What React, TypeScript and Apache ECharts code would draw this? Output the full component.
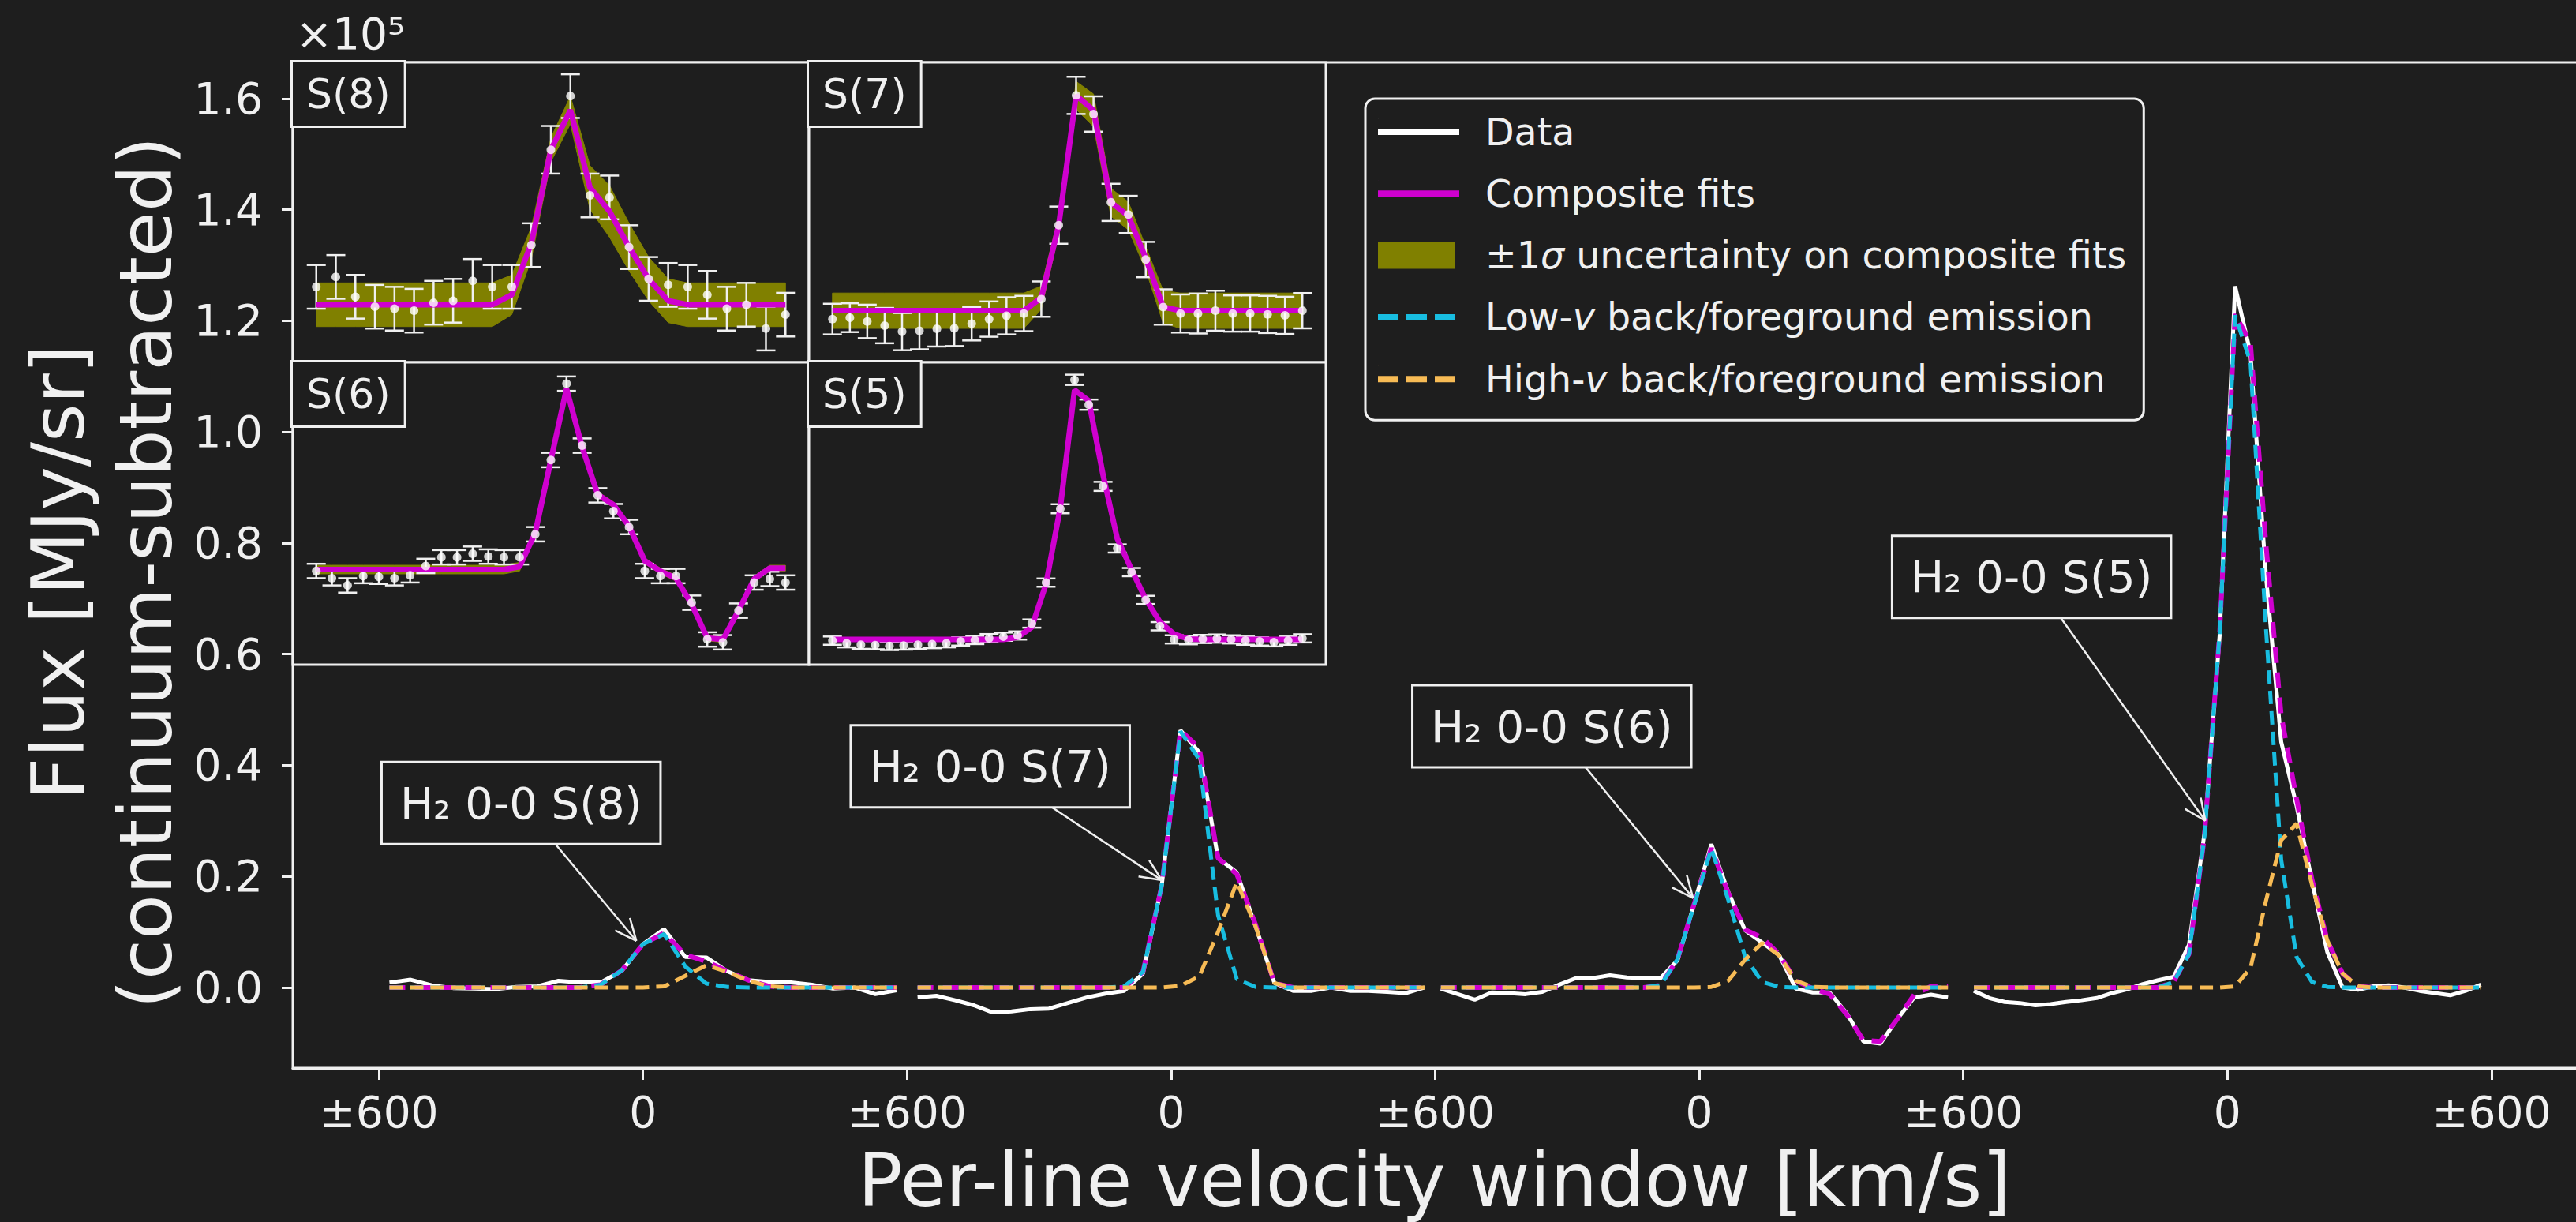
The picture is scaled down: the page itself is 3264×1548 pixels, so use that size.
import React, { useEffect, useRef } from 'react';
import * as echarts from 'echarts';

// ---------------- canvas / style constants ----------------
const W = 3264;
const H = 1548;
const FONT = 'DejaVu Sans';
const BG = '#1e1e1e';
const FG = '#f0f0f0';
const C_DATA = '#ffffff';
const C_FIT = '#cf00cf';
const C_LOW = '#18bde0';
const C_HIGH = '#f7bb55';
const C_BAND = '#808000';

// ---------------- axes ----------------
const X_MIN = -795.6;
const X_MAX = 4395.6;
const Y_MIN = -0.145;
const Y_MAX = 1.665;
const X_TICKS = [-600, 0, 600, 1200, 1800, 2400, 3000, 3600, 4200];
const Y_TICKS = [0, 0.2, 0.4, 0.6, 0.8, 1.0, 1.2, 1.4, 1.6];

// ---------------- lines ----------------
const LINE_NAMES = ['S(8)', 'S(7)', 'S(6)', 'S(5)'];
const WINDOW_CENTERS = [0, 1200, 2400, 3600];

// H2 0-0 S(8)  (flux in 1e5 MJy/sr)
const V8 = [-576, -528, -480, -432, -384, -336, -288, -240, -192, -144, -96, -48, 0, 48, 96, 144, 192, 240, 288, 336, 384, 432, 480, 528, 576];
const DATA8 = [0.009, 0.014, 0.004, -0.001, -0.002, -0.003, 0.001, 0.002, 0.012, 0.009, 0.009, 0.030, 0.078, 0.105, 0.055, 0.054, 0.029, 0.013, 0.010, 0.009, 0.005, -0.002, 0.000, -0.012, -0.005];
const ERR8 = [0.011, 0.011, 0.011, 0.011, 0.011, 0.011, 0.011, 0.011, 0.011, 0.011, 0.011, 0.011, 0.012, 0.011, 0.011, 0.011, 0.011, 0.011, 0.011, 0.011, 0.012, 0.011, 0.011, 0.011, 0.011];
const FIT8 = [0, 0, 0, 0, 0, 0, 0, 0, 0, 0, 0.005, 0.031, 0.078, 0.098, 0.059, 0.047, 0.029, 0.013, 0.002, 0, 0, 0, 0, 0, 0];
const SIG8 = [0.011, 0.011, 0.011, 0.011, 0.011, 0.011, 0.011, 0.011, 0.011, 0.011, 0.010, 0.008, 0.006, 0.007, 0.011, 0.013, 0.012, 0.011, 0.011, 0.011, 0.011, 0.011, 0.011, 0.011, 0.011];
const LOW8 = [0, 0, 0, 0, 0, 0, 0, 0, 0, 0, 0.005, 0.031, 0.078, 0.096, 0.038, 0.007, 0.001, 0, 0, 0, 0, 0, 0, 0, 0];
const HIGH8 = [0, 0, 0, 0, 0, 0, 0, 0, 0, 0, 0, 0, 0, 0.002, 0.021, 0.040, 0.028, 0.012, 0.002, 0, 0, 0, 0, 0, 0];

// H2 0-0 S(7)
const V7 = [-576, -533.3, -490.7, -448, -405.3, -362.7, -320, -277.3, -234.7, -192, -149.3, -106.7, -64, -21.3, 21.3, 64, 106.7, 149.3, 192, 234.7, 277.3, 320, 362.7, 405.3, 448, 490.7, 533.3, 576];
const DATA7 = [-0.018, -0.015, -0.023, -0.032, -0.045, -0.043, -0.039, -0.038, -0.028, -0.018, -0.011, -0.006, 0.025, 0.184, 0.463, 0.423, 0.233, 0.207, 0.110, 0.008, -0.006, -0.006, 0.000, -0.006, -0.006, -0.008, -0.010, 0.000];
const ERR7 = [0.033, 0.031, 0.036, 0.038, 0.040, 0.040, 0.038, 0.038, 0.036, 0.038, 0.040, 0.038, 0.038, 0.040, 0.040, 0.038, 0.040, 0.040, 0.038, 0.038, 0.041, 0.043, 0.043, 0.039, 0.039, 0.040, 0.040, 0.038];
const FIT7 = [0, 0, 0, 0, 0, 0, 0, 0, 0, 0, 0, 0, 0.028, 0.184, 0.463, 0.431, 0.233, 0.204, 0.113, 0.008, 0, 0, 0, 0, 0, 0, 0, 0];
const SIG7 = [0.038, 0.038, 0.038, 0.038, 0.038, 0.038, 0.038, 0.038, 0.038, 0.038, 0.038, 0.038, 0.025, 0.020, 0.030, 0.035, 0.030, 0.030, 0.025, 0.035, 0.038, 0.038, 0.038, 0.038, 0.038, 0.038, 0.038, 0.038];
const LOW7 = [0, 0, 0, 0, 0, 0, 0, 0, 0, 0, 0, 0.002, 0.028, 0.184, 0.461, 0.410, 0.130, 0.015, 0.001, 0, 0, 0, 0, 0, 0, 0, 0, 0];
const HIGH7 = [0, 0, 0, 0, 0, 0, 0, 0, 0, 0, 0, 0, 0, 0, 0.003, 0.020, 0.100, 0.190, 0.110, 0.008, 0, 0, 0, 0, 0, 0, 0, 0];

// H2 0-0 S(6)
const V6 = [-587, -548.6, -510.2, -471.8, -433.4, -395, -356.6, -318.2, -279.8, -241.4, -203, -164.6, -126.2, -87.8, -49.4, -11, 27.4, 65.8, 104.2, 142.6, 181, 219.4, 257.8, 296.2, 334.6, 373, 411.4, 449.8, 488.2, 526.6, 565];
const DATA6 = [-0.002, -0.012, -0.022, -0.009, -0.010, -0.012, -0.008, 0.005, 0.017, 0.017, 0.022, 0.018, 0.017, 0.017, 0.049, 0.152, 0.258, 0.172, 0.103, 0.081, 0.059, -0.002, -0.009, -0.009, -0.046, -0.097, -0.101, -0.057, -0.018, -0.013, -0.018];
const ERR6 = [0.010, 0.010, 0.010, 0.010, 0.010, 0.010, 0.010, 0.010, 0.010, 0.010, 0.010, 0.010, 0.010, 0.010, 0.010, 0.010, 0.010, 0.010, 0.010, 0.010, 0.010, 0.010, 0.010, 0.010, 0.010, 0.010, 0.010, 0.010, 0.010, 0.010, 0.010];
const FIT6 = [0, 0, 0, 0, 0, 0, 0, 0, 0, 0, 0, 0, 0, 0.004, 0.051, 0.152, 0.251, 0.170, 0.104, 0.090, 0.060, 0.012, -0.002, -0.012, -0.048, -0.095, -0.097, -0.057, -0.013, 0.002, 0.002];
const SIG6 = [0.006, 0.006, 0.006, 0.006, 0.006, 0.006, 0.006, 0.006, 0.006, 0.006, 0.006, 0.006, 0.006, 0.006, 0.004, 0.004, 0.004, 0.004, 0.004, 0.004, 0.004, 0.004, 0.004, 0.004, 0.004, 0.004, 0.004, 0.004, 0.004, 0.004, 0.004];
const LOW6 = [0, 0, 0, 0, 0, 0, 0, 0, 0, 0, 0, 0, 0, 0.004, 0.051, 0.150, 0.250, 0.158, 0.055, 0.010, 0.001, 0, 0, 0, 0, 0, 0, 0, 0, 0, 0];
const HIGH6 = [0, 0, 0, 0, 0, 0, 0, 0, 0, 0, 0, 0, 0, 0, 0, 0, 0.001, 0.012, 0.050, 0.080, 0.058, 0.012, 0.001, 0, 0, 0, 0, 0, 0, 0, 0];

// H2 0-0 S(5)
const V5 = [-576, -541.1, -506.2, -471.3, -436.4, -401.5, -366.5, -331.6, -296.7, -261.8, -226.9, -192, -157.1, -122.2, -87.3, -52.4, -17.5, 17.5, 52.4, 87.3, 122.2, 157.1, 192, 226.9, 261.8, 296.7, 331.6, 366.5, 401.5, 436.4, 471.3, 506.2, 541.1, 576];
const DATA5 = [-0.006, -0.019, -0.026, -0.028, -0.032, -0.030, -0.026, -0.023, -0.019, -0.010, -0.003, 0.006, 0.013, 0.019, 0.077, 0.276, 0.635, 1.262, 1.141, 0.744, 0.442, 0.327, 0.192, 0.064, 0.000, -0.004, 0.002, 0.004, 0.000, -0.006, -0.010, -0.014, -0.006, 0.005];
const ERR5 = [0.020, 0.020, 0.020, 0.020, 0.020, 0.020, 0.020, 0.020, 0.020, 0.020, 0.020, 0.020, 0.020, 0.020, 0.020, 0.020, 0.022, 0.025, 0.025, 0.022, 0.020, 0.020, 0.020, 0.020, 0.020, 0.020, 0.020, 0.020, 0.020, 0.020, 0.020, 0.020, 0.020, 0.020];
const FIT5 = [0, 0, 0, 0, 0, 0, 0, 0, 0, 0, 0, 0, 0, 0.010, 0.060, 0.270, 0.640, 1.212, 1.160, 0.800, 0.490, 0.340, 0.195, 0.085, 0.025, 0.002, 0, 0, 0, 0, 0, 0, 0, 0];
const SIG5 = [0.004, 0.004, 0.004, 0.004, 0.004, 0.004, 0.004, 0.004, 0.004, 0.004, 0.004, 0.004, 0.004, 0.004, 0.004, 0.004, 0.004, 0.004, 0.004, 0.004, 0.004, 0.004, 0.004, 0.004, 0.004, 0.004, 0.004, 0.004, 0.004, 0.004, 0.004, 0.004, 0.004, 0.004];
const LOW5 = [0, 0, 0, 0, 0, 0, 0, 0, 0, 0, 0, 0, 0, 0.010, 0.060, 0.270, 0.640, 1.210, 1.125, 0.650, 0.230, 0.055, 0.010, 0.001, 0, 0, 0, 0, 0, 0, 0, 0, 0, 0];
const HIGH5 = [0, 0, 0, 0, 0, 0, 0, 0, 0, 0, 0, 0, 0, 0, 0, 0, 0, 0.002, 0.035, 0.155, 0.265, 0.295, 0.185, 0.085, 0.025, 0.002, 0, 0, 0, 0, 0, 0, 0, 0];

// inset vertical ranges (same flux units)
const INSET_YMIN = [-0.029, -0.111, -0.132, -0.123];
const INSET_YMAX = [0.122, 0.534, 0.2876, 1.347];

// annotations (data coordinates of main axes)
const ANN_LABELS = ['H\u2082 0-0 S(8)', 'H\u2082 0-0 S(7)', 'H\u2082 0-0 S(6)', 'H\u2082 0-0 S(5)'];
const ANN_TEXT_X = [-277, 789, 2065, 3155];
const ANN_TEXT_Y = [0.332, 0.398, 0.470, 0.739];
const ANN_TIP_X = [-15, 1179, 2386, 3550];
const ANN_TIP_Y = [0.084, 0.193, 0.161, 0.300];

// legend names
const NAME_DATA = 'Data';
const NAME_FIT = 'Composite fits';
const NAME_BAND = '\u00b11\u03c3 uncertainty on composite fits';
const NAME_LOW = 'Low-v back/foreground emission';
const NAME_HIGH = 'High-v back/foreground emission';

// ---------------- layout ----------------
const MAIN_GRID = { left: 371, top: 79, width: 2895, height: 1274 };
const INSET_GRIDS = [
  { left: 371, top: 79, width: 654, height: 380 },
  { left: 1025, top: 79, width: 655, height: 380 },
  { left: 371, top: 459, width: 654, height: 383 },
  { left: 1025, top: 459, width: 655, height: 383 },
];
const ANN_HW = 175;
const ANN_HH = 51;

const ICON_SOLID = 'path://M0,0h0.2v0.2h-0.2z M0,13h103v8h-103z M130.8,33.8h0.2v0.2h-0.2z';
const ICON_DASH = 'path://M0,0h0.2v0.2h-0.2z M0,13h26v8h-26z M36,13h26v8h-26z M72,13h26v8h-26z M130.8,33.8h0.2v0.2h-0.2z';
const ICON_RECT = 'path://M0,0h98v34h-98z M130.8,33.8h0.2v0.2h-0.2z';

const LINESETS = [
  { v: V8, data: DATA8, err: ERR8, fit: FIT8, sig: SIG8, low: LOW8, high: HIGH8 },
  { v: V7, data: DATA7, err: ERR7, fit: FIT7, sig: SIG7, low: LOW7, high: HIGH7 },
  { v: V6, data: DATA6, err: ERR6, fit: FIT6, sig: SIG6, low: LOW6, high: HIGH6 },
  { v: V5, data: DATA5, err: ERR5, fit: FIT5, sig: SIG5, low: LOW5, high: HIGH5 },
];

const LEGEND_RICH: Record<string, string> = {
  [NAME_DATA]: '{t|Data}',
  [NAME_FIT]: '{t|Composite fits}',
  [NAME_BAND]: '{t|\u00b11}{i|\u03c3 }{t|uncertainty on composite fits}',
  [NAME_LOW]: '{t|Low-}{i|v }{t|back/foreground emission}',
  [NAME_HIGH]: '{t|High-}{i|v }{t|back/foreground emission}',
};

function buildOption(): any {
  const series: any[] = [];

  // main panel
  LINESETS.forEach((L, k) => {
    const c = WINDOW_CENTERS[k];
    const pts = (arr: number[]) => L.v.map((v, i) => [c + v, arr[i]]);
    series.push({
      type: 'line', name: NAME_DATA, xAxisIndex: 0, yAxisIndex: 0, data: pts(L.data),
      symbol: 'none', lineStyle: { color: C_DATA, width: 5 }, itemStyle: { color: C_DATA }, z: 2,
    });
    series.push({
      type: 'line', name: NAME_FIT, xAxisIndex: 0, yAxisIndex: 0, data: pts(L.fit),
      symbol: 'none', lineStyle: { color: C_FIT, width: 6, type: [20, 12] }, itemStyle: { color: C_FIT }, z: 3,
    });
    series.push({
      type: 'line', name: NAME_LOW, xAxisIndex: 0, yAxisIndex: 0, data: pts(L.low),
      symbol: 'none', lineStyle: { color: C_LOW, width: 5, type: [17, 9] }, itemStyle: { color: C_LOW }, z: 4,
    });
    series.push({
      type: 'line', name: NAME_HIGH, xAxisIndex: 0, yAxisIndex: 0, data: pts(L.high),
      symbol: 'none', lineStyle: { color: C_HIGH, width: 5, type: [17, 9] }, itemStyle: { color: C_HIGH }, z: 5,
    });
  });

  // insets
  LINESETS.forEach((L, k) => {
    const ax = k + 1;
    // ±1σ band as one polygon drawn through the inset axes
    series.push({
      type: 'custom', name: NAME_BAND, xAxisIndex: ax, yAxisIndex: ax,
      dimensions: ['v', 'lower', 'upper'], encode: { x: 0, y: [1, 2] },
      data: L.v.map((v, i) => [v, L.fit[i] - L.sig[i], L.fit[i] + L.sig[i]]),
      itemStyle: { color: C_BAND },
      renderItem: (params: any, api: any) => {
        if (params.dataIndex !== 0) return null;
        const upper = L.v.map((v, i) => api.coord([v, L.fit[i] + L.sig[i]]));
        const lower = L.v.map((v, i) => api.coord([v, L.fit[i] - L.sig[i]])).reverse();
        return {
          type: 'polygon',
          shape: { points: upper.concat(lower) },
          style: { fill: C_BAND, stroke: C_BAND, lineWidth: 1 },
        };
      },
      silent: true, z: 6,
    });
    series.push({
      type: 'custom', name: 'errbar-' + k, xAxisIndex: ax, yAxisIndex: ax,
      dimensions: ['v', 'flux', 'err'], encode: { x: 0, y: 1 },
      data: L.v.map((v, i) => [v, L.data[i], L.err[i]]),
      renderItem: (params: any, api: any) => {
        const x = api.value(0);
        const y = api.value(1);
        const e = api.value(2);
        const lo = api.coord([x, y - e]);
        const hi = api.coord([x, y + e]);
        const cw = 12;
        const st = { stroke: FG, lineWidth: 2.5 };
        return {
          type: 'group',
          children: [
            { type: 'line', shape: { x1: lo[0], y1: lo[1], x2: hi[0], y2: hi[1] }, style: st },
            { type: 'line', shape: { x1: lo[0] - cw, y1: lo[1], x2: lo[0] + cw, y2: lo[1] }, style: st },
            { type: 'line', shape: { x1: hi[0] - cw, y1: hi[1], x2: hi[0] + cw, y2: hi[1] }, style: st },
          ],
        };
      },
      silent: true, z: 7,
    });
    series.push({
      type: 'line', name: NAME_FIT, xAxisIndex: ax, yAxisIndex: ax,
      data: L.v.map((v, i) => [v, L.fit[i]]),
      symbol: 'none', lineStyle: { color: C_FIT, width: 7 }, itemStyle: { color: C_FIT }, z: 8,
    });
    series.push({
      type: 'scatter', name: 'points-' + k, xAxisIndex: ax, yAxisIndex: ax,
      data: L.v.map((v, i) => [v, L.data[i]]),
      symbol: 'circle', symbolSize: 11, itemStyle: { color: '#ffffff' }, silent: true, z: 9,
    });
  });

  const insetX = LINESETS.map((L) => {
    const lo = Math.min(...L.v);
    const hi = Math.max(...L.v);
    const m = 0.05 * (hi - lo);
    return [lo - m, hi + m];
  });

  const textBase = { color: FG, fontFamily: FONT, fontSize: 47.5, lineHeight: 56 };

  return {
    animation: false,
    backgroundColor: BG,
    grid: [
      { ...MAIN_GRID, show: true, borderColor: FG, borderWidth: 3, backgroundColor: 'transparent', containLabel: false, outerBoundsMode: 'none' },
      ...INSET_GRIDS.map((g) => ({ ...g, show: true, borderColor: FG, borderWidth: 3, backgroundColor: BG, containLabel: false, outerBoundsMode: 'none' })),
    ],
    xAxis: [
      {
        type: 'value', gridIndex: 0, min: X_MIN, max: X_MAX,
        axisLine: { show: true, onZero: false, lineStyle: { color: FG, width: 3 } },
        axisTick: { show: true, customValues: X_TICKS, length: 15, lineStyle: { color: FG, width: 3 } },
        axisLabel: {
          show: true, customValues: X_TICKS, color: FG, fontFamily: FONT, fontSize: 55, margin: 28,
          formatter: (v: number) => (Math.round(v) % 1200 === 0 ? '0' : '\u00b1600'),
        },
        splitLine: { show: false },
      },
      ...insetX.map((r, k) => ({ type: 'value', gridIndex: k + 1, min: r[0], max: r[1], show: false, splitLine: { show: false } })),
    ],
    yAxis: [
      {
        type: 'value', gridIndex: 0, min: Y_MIN, max: Y_MAX,
        axisLine: { show: true, onZero: false, lineStyle: { color: FG, width: 3 } },
        axisTick: { show: true, customValues: Y_TICKS, length: 14, lineStyle: { color: FG, width: 3 } },
        axisLabel: {
          show: true, customValues: Y_TICKS, color: FG, fontFamily: FONT, fontSize: 55, margin: 38,
          formatter: (v: number) => v.toFixed(1),
        },
        splitLine: { show: false },
      },
      ...INSET_YMIN.map((mn, k) => ({ type: 'value', gridIndex: k + 1, min: mn, max: INSET_YMAX[k], show: false, splitLine: { show: false } })),
    ],
    legend: {
      show: true, orient: 'vertical', left: 1730, top: 125,
      padding: [14, 22, 24, 16], itemGap: 22.3, itemWidth: 131, itemHeight: 34,
      backgroundColor: BG, borderColor: FG, borderWidth: 3, borderRadius: 12,
      selectedMode: false, symbolKeepAspect: false, z: 20,
      data: [
        { name: NAME_DATA, icon: ICON_SOLID, itemStyle: { color: C_DATA, borderWidth: 0 } },
        { name: NAME_FIT, icon: ICON_SOLID, itemStyle: { color: C_FIT, borderWidth: 0 } },
        { name: NAME_BAND, icon: ICON_RECT, itemStyle: { color: C_BAND, borderWidth: 0 } },
        { name: NAME_LOW, icon: ICON_DASH, itemStyle: { color: C_LOW, borderWidth: 0 } },
        { name: NAME_HIGH, icon: ICON_DASH, itemStyle: { color: C_HIGH, borderWidth: 0 } },
      ],
      formatter: (name: string) => LEGEND_RICH[name] || name,
      textStyle: {
        ...textBase,
        rich: {
          t: { ...textBase },
          i: { ...textBase, fontStyle: 'italic' },
        },
      },
    },
    series,
  };
}

function buildGraphics(chart: any): any[] {
  const els: any[] = [];
  const toPx = (x: number, y: number) => chart.convertToPixel({ xAxisIndex: 0, yAxisIndex: 0 }, [x, y]);

  // axis titles
  els.push({
    type: 'text', x: 129.5, y: 725, rotation: Math.PI / 2, z: 50,
    style: {
      text: 'Flux [MJy/sr]\n(continuum-subtracted)', fontFamily: FONT, fontSize: 93, lineHeight: 111,
      fill: FG, align: 'center', verticalAlign: 'middle',
    },
  });
  els.push({
    type: 'text', x: MAIN_GRID.left + (W - MAIN_GRID.left) / 2, y: 1495, z: 50,
    style: { text: 'Per-line velocity window [km/s]', fontFamily: FONT, fontSize: 94, fill: FG, align: 'center', verticalAlign: 'middle' },
  });
  els.push({
    type: 'text', x: 375, y: 43, z: 50,
    style: { text: '\u00d710\u2075', fontFamily: FONT, fontSize: 55, fill: FG, align: 'left', verticalAlign: 'middle' },
  });

  // inset labels
  INSET_GRIDS.forEach((g, k) => {
    els.push({
      type: 'text', x: g.left, y: g.top, z: 60,
      style: {
        text: LINE_NAMES[k], fontFamily: FONT, fontSize: 52, lineHeight: 60, fill: FG,
        align: 'left', verticalAlign: 'top', backgroundColor: BG, borderColor: FG, borderWidth: 3,
        padding: [10, 17, 10, 17],
      },
    });
  });

  // annotations with arrows
  ANN_LABELS.forEach((label, k) => {
    const c = toPx(ANN_TEXT_X[k], ANN_TEXT_Y[k]);
    const tip = toPx(ANN_TIP_X[k], ANN_TIP_Y[k]);
    const dx = tip[0] - c[0];
    const dy = tip[1] - c[1];
    const t = Math.min(ANN_HW / Math.max(Math.abs(dx), 1e-6), ANN_HH / Math.max(Math.abs(dy), 1e-6));
    const sx = c[0] + dx * t;
    const sy = c[1] + dy * t;
    const ang = Math.atan2(tip[1] - sy, tip[0] - sx);
    const L = 30;
    const a = 0.42;
    const st = { stroke: FG, lineWidth: 2.5 };
    els.push({ type: 'line', z: 70, shape: { x1: sx, y1: sy, x2: tip[0], y2: tip[1] }, style: st });
    els.push({ type: 'line', z: 70, shape: { x1: tip[0], y1: tip[1], x2: tip[0] - L * Math.cos(ang - a), y2: tip[1] - L * Math.sin(ang - a) }, style: st });
    els.push({ type: 'line', z: 70, shape: { x1: tip[0], y1: tip[1], x2: tip[0] - L * Math.cos(ang + a), y2: tip[1] - L * Math.sin(ang + a) }, style: st });
    els.push({
      type: 'text', x: c[0], y: c[1], z: 80,
      style: {
        text: label, fontFamily: FONT, fontSize: 56, lineHeight: 67, fill: FG,
        align: 'center', verticalAlign: 'middle', backgroundColor: BG, borderColor: FG, borderWidth: 3,
        padding: [17, 22, 17, 22],
      },
    });
  });

  return els;
}

export default function App() {
  const ref = useRef<HTMLDivElement>(null);
  useEffect(() => {
    if (!ref.current) return;
    const chart = echarts.init(ref.current, null, { renderer: 'svg', width: W, height: H });
    chart.setOption(buildOption());
    chart.setOption({ graphic: buildGraphics(chart) });
    return () => chart.dispose();
  }, []);
  return (
    <div
      ref={ref}
      style={{ position: 'fixed', left: 0, top: 0, width: W, height: H, background: BG }}
    />
  );
}
